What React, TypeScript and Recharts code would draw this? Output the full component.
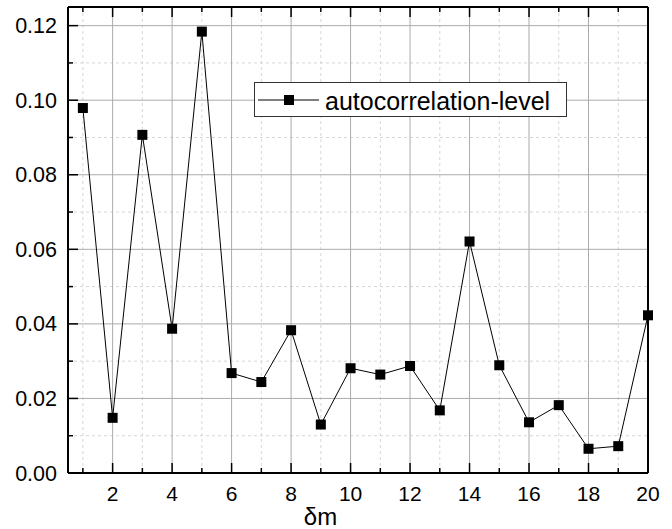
import { CartesianGrid, Line, LineChart, XAxis, YAxis } from "recharts";

const DELTA_M = [1, 2, 3, 4, 5, 6, 7, 8, 9, 10, 11, 12, 13, 14, 15, 16, 17, 18, 19, 20];
const NIVEL = [
  0.0979, 0.0148, 0.0907, 0.0387, 0.1184, 0.0268, 0.0244, 0.0383, 0.013, 0.0281,
  0.0264, 0.0287, 0.0168, 0.0621, 0.0289, 0.0136, 0.0182, 0.0065, 0.0072, 0.0423,
];
const X_TICKS = [1, 2, 3, 4, 5, 6, 7, 8, 9, 10, 11, 12, 13, 14, 15, 16, 17, 18, 19, 20];
const Y_TICKS = [0, 0.01, 0.02, 0.03, 0.04, 0.05, 0.06, 0.07, 0.08, 0.09, 0.1, 0.11, 0.12];
const X_MAIOR = [2, 4, 6, 8, 10, 12, 14, 16, 18, 20];
const X_MENOR = [1, 3, 5, 7, 9, 11, 13, 15, 17, 19];
const Y_MAIOR = [0.02, 0.04, 0.06, 0.08, 0.1, 0.12];
const Y_MENOR = [0.01, 0.03, 0.05, 0.07, 0.09, 0.11];
const LEGENDA = "autocorrelation-level";

const dados = DELTA_M.map((x, i) => ({ x, y: NIVEL[i] }));

const FONTE = "'Liberation Sans', Arial, sans-serif";

function TickBaixo(props: any) {
  const { x, y, index, payload } = props;
  const maior = index % 2 === 1;
  return (
    <g>
      <line x1={x} x2={x} y1={y} y2={y - (maior ? 10 : 5)} stroke="#000" strokeWidth={1.5} />
      {maior && (
        <text x={x} y={y + 28} textAnchor="middle" fontSize={21} fontFamily={FONTE} fill="#000">
          {payload.value}
        </text>
      )}
    </g>
  );
}

function TickTopo(props: any) {
  const { x, y, index } = props;
  const maior = index % 2 === 1;
  return <line x1={x} x2={x} y1={y} y2={y + (maior ? 10 : 5)} stroke="#000" strokeWidth={1.5} />;
}

function TickEsquerda(props: any) {
  const { x, y, index, payload } = props;
  const maior = index % 2 === 0;
  return (
    <g>
      <line x1={x} x2={x + (maior ? 10 : 5)} y1={y} y2={y} stroke="#000" strokeWidth={1.5} />
      {maior && (
        <text x={x - 11} y={y + 7.5} textAnchor="end" fontSize={21.5} fontFamily={FONTE} fill="#000">
          {Number(payload.value).toFixed(2)}
        </text>
      )}
    </g>
  );
}

function TickDireita(props: any) {
  const { x, y, index } = props;
  const maior = index % 2 === 0;
  return <line x1={x} x2={x - (maior ? 10 : 5)} y1={y} y2={y} stroke="#000" strokeWidth={1.5} />;
}

function Quadrado(props: any) {
  const { cx, cy, index } = props;
  return <rect key={`q-${index}`} x={cx - 5} y={cy - 5} width={10} height={10} fill="#000" />;
}

export default function App() {
  return (
    <div style={{ position: "relative", width: 672, height: 529, background: "#fff" }}>
      <style>{`body{margin:0;}`}</style>
      <LineChart width={672} height={529} data={dados} margin={{ top: 6, right: 23, left: 67, bottom: 55 }}>
        <CartesianGrid
          stroke="#d6d6d6"
          strokeDasharray="3 3"
          verticalValues={X_MENOR}
          horizontalValues={Y_MENOR}
        />
        <CartesianGrid stroke="#ababab" verticalValues={X_MAIOR} horizontalValues={Y_MAIOR} />
        <XAxis
          dataKey="x"
          type="number"
          domain={[0.5, 20]}
          ticks={X_TICKS}
          interval={0}
          height={1}
          tickSize={0}
          tickMargin={0}
          tickLine={false}
          tick={<TickBaixo />}
          axisLine={{ stroke: "#000", strokeWidth: 2 }}
        />
        <XAxis
          xAxisId="topo"
          orientation="top"
          dataKey="x"
          type="number"
          domain={[0.5, 20]}
          ticks={X_TICKS}
          interval={0}
          height={1}
          tickSize={0}
          tickMargin={0}
          tickLine={false}
          tick={<TickTopo />}
          axisLine={{ stroke: "#000", strokeWidth: 2 }}
        />
        <YAxis
          type="number"
          domain={[0, 0.125]}
          ticks={Y_TICKS}
          interval={0}
          width={1}
          tickSize={0}
          tickMargin={0}
          tickLine={false}
          tick={<TickEsquerda />}
          axisLine={{ stroke: "#000", strokeWidth: 2 }}
        />
        <YAxis
          yAxisId="direita"
          orientation="right"
          type="number"
          domain={[0, 0.125]}
          ticks={Y_TICKS}
          interval={0}
          width={1}
          tickSize={0}
          tickMargin={0}
          tickLine={false}
          tick={<TickDireita />}
          axisLine={{ stroke: "#000", strokeWidth: 2 }}
        />
        <Line
          dataKey="y"
          stroke="#000"
          strokeWidth={1}
          dot={<Quadrado />}
          activeDot={false}
          isAnimationActive={false}
        />
        <text x={320.5} y={525} textAnchor="middle" fontSize={24} fontFamily={FONTE} fill="#000">
          δm
        </text>
      </LineChart>
      <div
        style={{
          position: "absolute",
          left: 254,
          top: 82,
          width: 313,
          height: 35,
          boxSizing: "border-box",
          border: "1px solid #333",
          background: "#fff",
        }}
      >
        <svg width={311} height={33} style={{ position: "absolute", left: 0, top: 0 }}>
          <line x1={3} x2={64} y1={17} y2={17} stroke="#000" strokeWidth={1} />
          <rect x={29} y={12} width={10} height={10} fill="#000" />
          <text x={70} y={27} fontSize={25} fontFamily={FONTE} fill="#000">
            {LEGENDA}
          </text>
        </svg>
      </div>
    </div>
  );
}
